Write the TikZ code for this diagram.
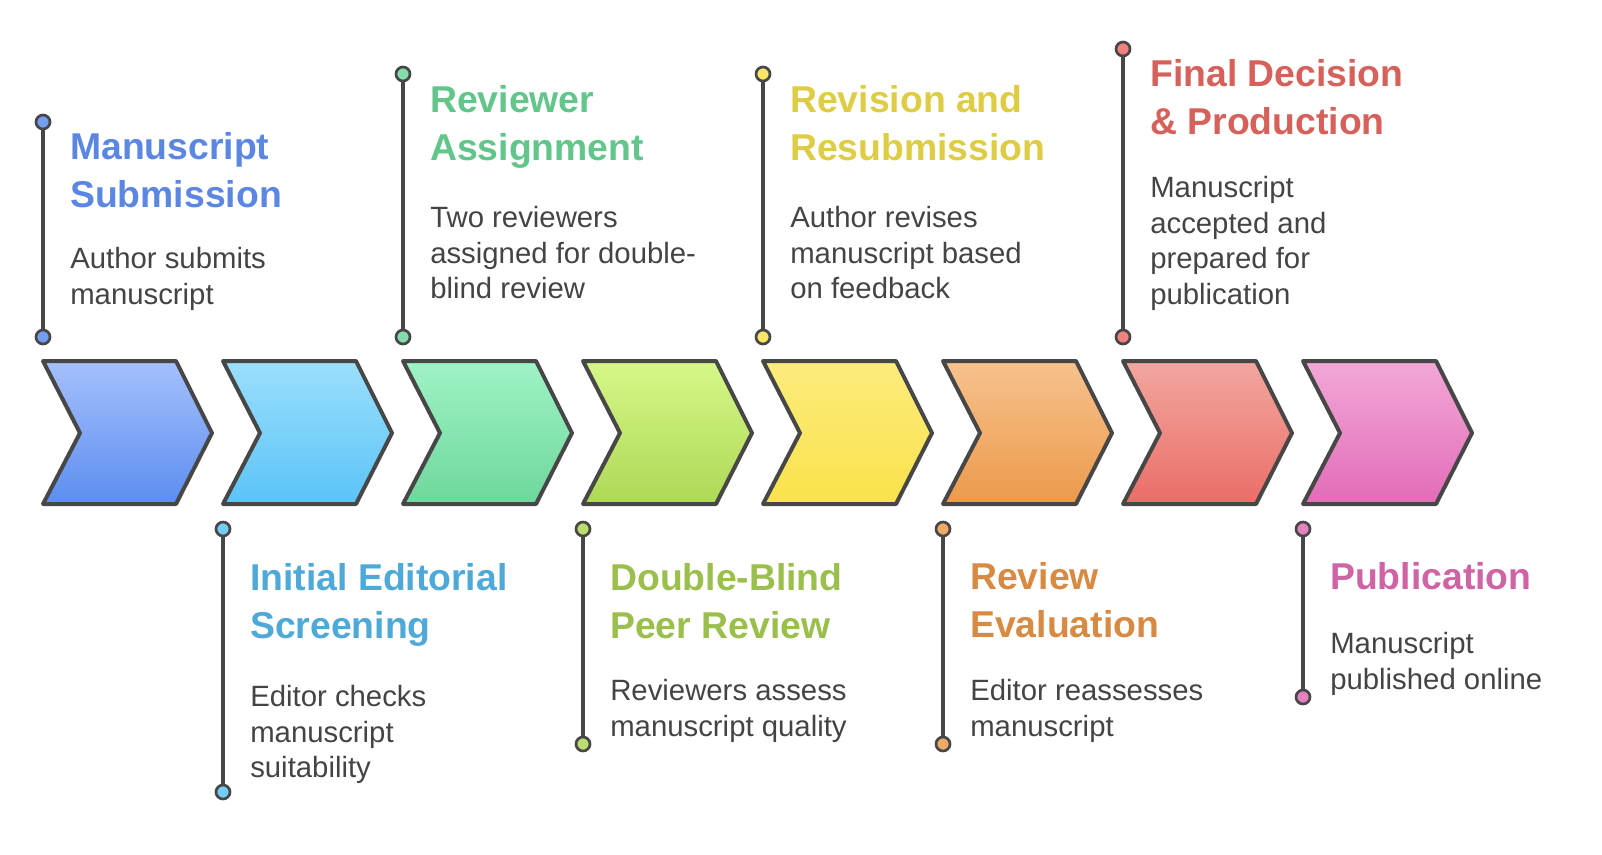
\documentclass[tikz,border=0pt]{standalone}
\usepackage{fontspec}
\setmainfont{Liberation Sans}
\usepackage{tikz}

\definecolor{ink}{HTML}{474747}
\definecolor{body}{HTML}{444444}
% chevron top / bottom, title colours
\definecolor{aT}{HTML}{A6C1FB}\definecolor{aB}{HTML}{5C8DF0}\definecolor{aH}{HTML}{5B87E3}
\definecolor{bT}{HTML}{9BDFFC}\definecolor{bB}{HTML}{5BC3F7}\definecolor{bH}{HTML}{4EA9D9}
\definecolor{cT}{HTML}{9FF3C6}\definecolor{cB}{HTML}{6ED79B}\definecolor{cH}{HTML}{62C58A}
\definecolor{dT}{HTML}{D6F788}\definecolor{dB}{HTML}{AED856}\definecolor{dH}{HTML}{9BBF4D}
\definecolor{eT}{HTML}{FCEC7E}\definecolor{eB}{HTML}{FAE24A}\definecolor{eH}{HTML}{DFCC45}
\definecolor{fT}{HTML}{F6C28E}\definecolor{fB}{HTML}{EC9A4B}\definecolor{fH}{HTML}{D88A42}
\definecolor{gT}{HTML}{F2A7A0}\definecolor{gB}{HTML}{EB6D67}\definecolor{gH}{HTML}{D6605A}
\definecolor{hT}{HTML}{F2A8D8}\definecolor{hB}{HTML}{E26CB7}\definecolor{hH}{HTML}{CF63A6}

\newcommand{\ttlstrut}{\rule{0pt}{21pt}}
\newcommand{\txtstrut}{\rule{0pt}{16.5pt}}

\begin{document}
\begin{tikzpicture}[x=0.75pt, y=-0.75pt,
    chev/.style={draw=ink, line width=3pt, line join=round},
    stem/.style={draw=ink, line width=3pt},
    dot/.style={circle, draw=ink, line width=2pt, inner sep=0pt, minimum size=10.5pt},
    ttl/.style={anchor=north west, inner sep=0pt, align=left, font=\fontsize{28}{36}\selectfont\bfseries},
    txt/.style={anchor=north west, inner sep=0pt, align=left, text=body, font=\fontsize{22}{26.8}\selectfont}
]
\fill[white] (0,0) rectangle (1602,854);
\useasboundingbox (0,0) rectangle (1602,854);

% Chevrons
\draw[chev, top color=aT, bottom color=aB] (43,361) -- ++(133,0) -- ++(36,72) -- ++(-36,71) -- ++(-133,0) -- ++(37,-71) -- cycle;
\draw[chev, top color=bT, bottom color=bB] (223,361) -- ++(133,0) -- ++(36,72) -- ++(-36,71) -- ++(-133,0) -- ++(37,-71) -- cycle;
\draw[chev, top color=cT, bottom color=cB] (403,361) -- ++(133,0) -- ++(36,72) -- ++(-36,71) -- ++(-133,0) -- ++(37,-71) -- cycle;
\draw[chev, top color=dT, bottom color=dB] (583,361) -- ++(133,0) -- ++(36,72) -- ++(-36,71) -- ++(-133,0) -- ++(37,-71) -- cycle;
\draw[chev, top color=eT, bottom color=eB] (763,361) -- ++(133,0) -- ++(36,72) -- ++(-36,71) -- ++(-133,0) -- ++(37,-71) -- cycle;
\draw[chev, top color=fT, bottom color=fB] (943,361) -- ++(133,0) -- ++(36,72) -- ++(-36,71) -- ++(-133,0) -- ++(37,-71) -- cycle;
\draw[chev, top color=gT, bottom color=gB] (1123,361) -- ++(133,0) -- ++(36,72) -- ++(-36,71) -- ++(-133,0) -- ++(37,-71) -- cycle;
\draw[chev, top color=hT, bottom color=hB] (1303,361) -- ++(133,0) -- ++(36,72) -- ++(-36,71) -- ++(-133,0) -- ++(37,-71) -- cycle;

% Stems
\coordinate (s1a) at (43,122);   \coordinate (s1b) at (43,337);
\coordinate (s2a) at (223,529);  \coordinate (s2b) at (223,792);
\coordinate (s3a) at (403,74);   \coordinate (s3b) at (403,337);
\coordinate (s4a) at (583,529);  \coordinate (s4b) at (583,744);
\coordinate (s5a) at (763,74);   \coordinate (s5b) at (763,337);
\coordinate (s6a) at (943,529);  \coordinate (s6b) at (943,744);
\coordinate (s7a) at (1123,49);  \coordinate (s7b) at (1123,337);
\coordinate (s8a) at (1303,529); \coordinate (s8b) at (1303,697);

\draw[stem] (s1a) -- (s1b);
\draw[stem] (s2a) -- (s2b);
\draw[stem] (s3a) -- (s3b);
\draw[stem] (s4a) -- (s4b);
\draw[stem] (s5a) -- (s5b);
\draw[stem] (s6a) -- (s6b);
\draw[stem] (s7a) -- (s7b);
\draw[stem] (s8a) -- (s8b);

\node[dot, fill=aB!85!white] (d1a) at (s1a) {}; \node[dot, fill=aB!85!white] (d1b) at (s1b) {};
\node[dot, fill=bB!85!white] (d2a) at (s2a) {}; \node[dot, fill=bB!85!white] (d2b) at (s2b) {};
\node[dot, fill=cB!85!white] (d3a) at (s3a) {}; \node[dot, fill=cB!85!white] (d3b) at (s3b) {};
\node[dot, fill=dB!85!white] (d4a) at (s4a) {}; \node[dot, fill=dB!85!white] (d4b) at (s4b) {};
\node[dot, fill=eB!85!white] (d5a) at (s5a) {}; \node[dot, fill=eB!85!white] (d5b) at (s5b) {};
\node[dot, fill=fB!85!white] (d6a) at (s6a) {}; \node[dot, fill=fB!85!white] (d6b) at (s6b) {};
\node[dot, fill=gB!85!white] (d7a) at (s7a) {}; \node[dot, fill=gB!85!white] (d7b) at (s7b) {};
\node[dot, fill=hB!85!white] (d8a) at (s8a) {}; \node[dot, fill=hB!85!white] (d8b) at (s8b) {};

% Titles
\node[ttl, text=aH] (h1) at (70,131)   {\ttlstrut Manuscript\\Submission};
\node[ttl, text=bH] (h2) at (250,562)  {\ttlstrut Initial Editorial\\Screening};
\node[ttl, text=cH] (h3) at (430,84)   {\ttlstrut Reviewer\\Assignment};
\node[ttl, text=dH] (h4) at (610,562)  {\ttlstrut Double-Blind\\Peer Review};
\node[ttl, text=eH] (h5) at (790,84)   {\ttlstrut Revision and\\Resubmission};
\node[ttl, text=fH] (h6) at (970,561)  {\ttlstrut Review\\Evaluation};
\node[ttl, text=gH] (h7) at (1150,58)  {\ttlstrut Final Decision\\\& Production};
\node[ttl, text=hH] (h8) at (1330,561) {\ttlstrut Publication};

% Descriptions
\node[txt] (b1) at (70,246)   {\txtstrut Author submits\\manuscript};
\node[txt] (b2) at (250,684)  {\txtstrut Editor checks\\manuscript\\suitability};
\node[txt] (b3) at (430,205)  {\txtstrut Two reviewers\\assigned for double-\\blind review};
\node[txt] (b4) at (610,678)  {\txtstrut Reviewers assess\\manuscript quality};
\node[txt] (b5) at (790,205)  {\txtstrut Author revises\\manuscript based\\on feedback};
\node[txt] (b6) at (970,678)  {\txtstrut Editor reassesses\\manuscript};
\node[txt] (b7) at (1150,175) {\txtstrut Manuscript\\accepted and\\prepared for\\publication};
\node[txt] (b8) at (1330,631) {\txtstrut Manuscript\\published online};

\end{tikzpicture}
\end{document}
